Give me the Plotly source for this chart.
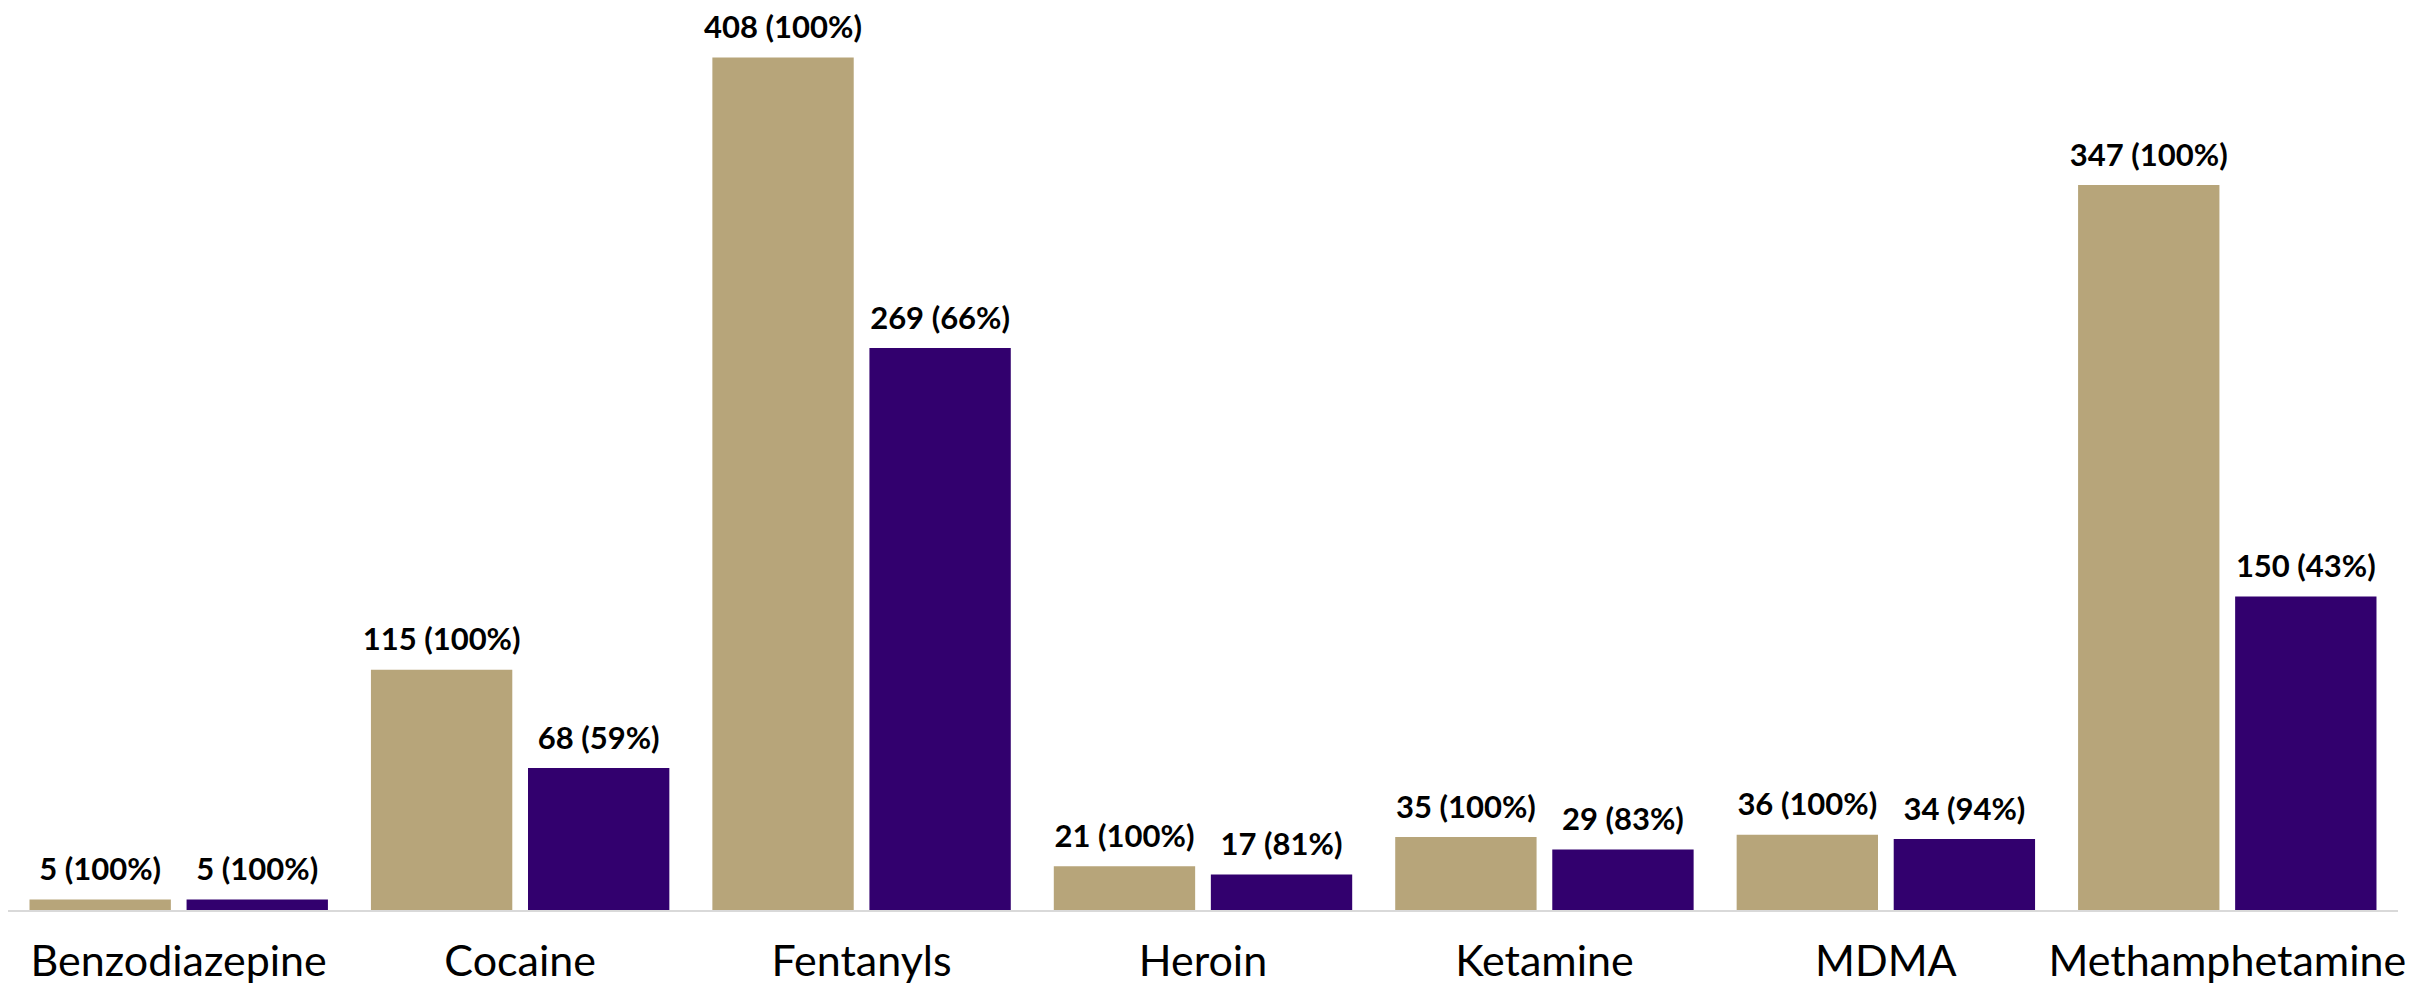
import plotly.graph_objects as go

categories = ["Benzodiazepine", "Cocaine", "Fentanyls", "Heroin", "Ketamine", "MDMA", "Methamphetamine"]
series1_values = [5, 115, 408, 21, 35, 36, 347]
series1_labels = ["5 (100%)", "115 (100%)", "408 (100%)", "21 (100%)", "35 (100%)", "36 (100%)", "347 (100%)"]
series2_values = [5, 68, 269, 17, 29, 34, 150]
series2_labels = ["5 (100%)", "68 (59%)", "269 (66%)", "17 (81%)", "29 (83%)", "34 (94%)", "150 (43%)"]

FONT = "Lato, Open Sans, sans-serif"
label_font = dict(family=FONT, size=31, color="#000000")
colors = ["#B7A57A", "#32006E"]

fig = go.Figure()
for i, (vals, labs) in enumerate([(series1_values, series1_labels), (series2_values, series2_labels)]):
    fig.add_trace(go.Bar(x=categories, y=vals, offsetgroup=str(i),
                         marker=dict(color=colors[i], line=dict(width=0)),
                         name=f"Series {i+1}"))
for i, (vals, labs) in enumerate([(series1_values, series1_labels), (series2_values, series2_labels)]):
    fig.add_trace(go.Scatter(x=categories, y=vals, offsetgroup=str(i), mode="markers+text",
                             text=[f"<b>{t}</b>" for t in labs], textposition="top center",
                             marker=dict(size=17, opacity=0), cliponaxis=False,
                             textfont=label_font, hoverinfo="skip", showlegend=False))

fig.update_layout(
    width=2418, height=984,
    margin=dict(l=0, r=28, t=12, b=82, autoexpand=False),
    barmode="group", bargap=0.08, bargroupgap=0.1,
    scattermode="group", scattergap=0.08,
    plot_bgcolor="white", paper_bgcolor="white",
    showlegend=False,
    font=dict(family=FONT, color="#000000"),
)
fig.update_xaxes(showline=True, linecolor="#D9D9D9", linewidth=2, automargin=False,
                 showgrid=False, ticks="", ticklabelstandoff=12,
                 tickfont=dict(family=FONT, size=43, color="#000000"))
fig.update_yaxes(range=[0, 426], visible=False, showgrid=False, zeroline=False, automargin=False)

fig.write_html("out.html")
